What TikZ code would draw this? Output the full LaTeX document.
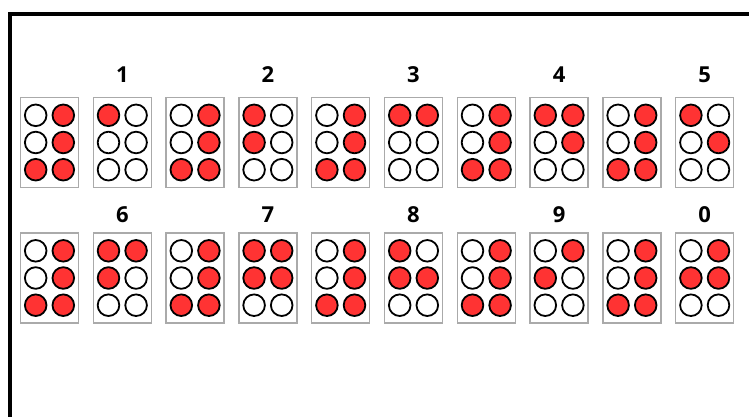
\documentclass[tikz,border=0pt]{standalone}
\usepackage{fontspec}
\setmainfont{Open Sans}
\definecolor{dotred}{RGB}{255,51,51}
\definecolor{boxgray}{RGB}{170,170,170}
\newcommand{\bcell}[9]{%
  \node[cellbox] (#1) at (#2,#3) {};
  \node[brailledot,dot#4] (#1-1) at (#2-13.8,#3-27.2) {};
  \node[brailledot,dot#5] (#1-2) at (#2-13.8,#3) {};
  \node[brailledot,dot#6] (#1-3) at (#2-13.8,#3+27.2) {};
  \node[brailledot,dot#7] (#1-4) at (#2+13.8,#3-27.2) {};
  \node[brailledot,dot#8] (#1-5) at (#2+13.8,#3) {};
  \node[brailledot,dot#9] (#1-6) at (#2+13.8,#3+27.2) {};
}
\begin{document}
\begin{tikzpicture}[x=1pt,y=-1pt,
  cellbox/.style={draw=boxgray, line width=1.3pt, minimum width=58pt, minimum height=90pt, inner sep=0pt, fill=white},
  brailledot/.style={circle, draw=black, line width=1.8pt, minimum size=21.6pt, inner sep=0pt},
  dotF/.style={fill=dotred},
  dotE/.style={fill=white},
  digitlabel/.style={font=\bfseries\fontsize{22}{22}\selectfont, inner sep=0pt}]
\useasboundingbox (0,0) rectangle (749,416);
\draw[line width=4pt, miter limit=10] (10,500) -- (10,14) -- (800,14);
% row 1
\bcell{a0}{49.5+72.8*0}{142.5}EEFFFF
\bcell{a1}{49.5+72.8*1}{142.5}FEEEEE
\bcell{a2}{49.5+72.8*2}{142.5}EEFFFF
\bcell{a3}{49.5+72.8*3}{142.5}FFEEEE
\bcell{a4}{49.5+72.8*4}{142.5}EEFFFF
\bcell{a5}{49.5+72.8*5}{142.5}FEEFEE
\bcell{a6}{49.5+72.8*6}{142.5}EEFFFF
\bcell{a7}{49.5+72.8*7}{142.5}FEEFFE
\bcell{a8}{49.5+72.8*8}{142.5}EEFFFF
\bcell{a9}{49.5+72.8*9}{142.5}FEEEFE
% row 2
\bcell{b0}{49.5+72.8*0}{278}EEFFFF
\bcell{b1}{49.5+72.8*1}{278}FFEFEE
\bcell{b2}{49.5+72.8*2}{278}EEFFFF
\bcell{b3}{49.5+72.8*3}{278}FFEFFE
\bcell{b4}{49.5+72.8*4}{278}EEFFFF
\bcell{b5}{49.5+72.8*5}{278}FFEEFE
\bcell{b6}{49.5+72.8*6}{278}EEFFFF
\bcell{b7}{49.5+72.8*7}{278}EFEFEE
\bcell{b8}{49.5+72.8*8}{278}EEFFFF
\bcell{b9}{49.5+72.8*9}{278}EFEFFE
% labels
\node[digitlabel] (l1) at (49.5+72.8*1,75) {1};
\node[digitlabel] (l2) at (49.5+72.8*3,75) {2};
\node[digitlabel] (l3) at (49.5+72.8*5,75) {3};
\node[digitlabel] (l4) at (49.5+72.8*7,75) {4};
\node[digitlabel] (l5) at (49.5+72.8*9,75) {5};
\node[digitlabel] (l6) at (49.5+72.8*1,215) {6};
\node[digitlabel] (l7) at (49.5+72.8*3,215) {7};
\node[digitlabel] (l8) at (49.5+72.8*5,215) {8};
\node[digitlabel] (l9) at (49.5+72.8*7,215) {9};
\node[digitlabel] (l0) at (49.5+72.8*9,215) {0};
\end{tikzpicture}
\end{document}
